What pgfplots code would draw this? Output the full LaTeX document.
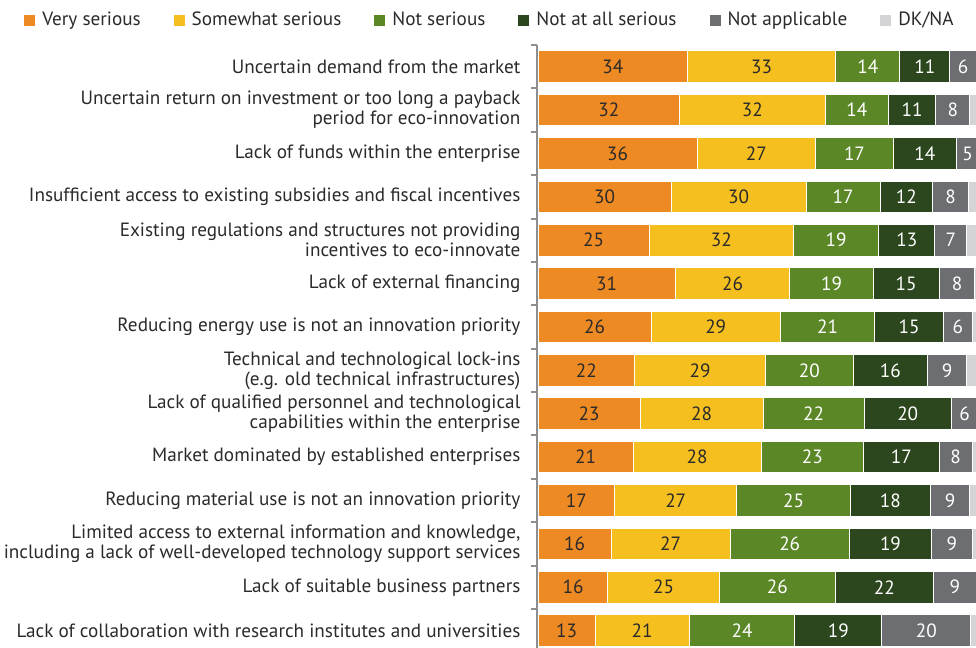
\documentclass[border=0pt]{standalone}
\usepackage{pgfplots}
\pgfplotsset{compat=1.18}
\usepackage{pgfplotstable}
\usepackage{fontspec}
\setmainfont{PT Sans}
\definecolor{cVery}{HTML}{EE8A24}
\definecolor{cSome}{HTML}{F5BF20}
\definecolor{cNot}{HTML}{5B8727}
\definecolor{cNotAll}{HTML}{2C461E}
\definecolor{cNA}{HTML}{6D6E72}
\definecolor{cDK}{HTML}{D4D4D6}
\definecolor{axgray}{HTML}{8E8E90}
\definecolor{txt}{HTML}{2A2A2A}
\pgfplotstableread{
y a la b lb c lc d ld e le f
0 33.8 34 33.6 33 14.5 14 11.3 11 6.0 6 0.8
1 32.0 32 33.0 32 14.3 14 10.7 11 7.7 8 2.3
2 36.0 36 26.8 27 17.6 17 14.3 14 5.0 5 0.3
3 30.1 30 30.6 30 16.7 17 11.9 12 8.1 8 2.6
4 25.1 25 32.7 32 19.3 19 12.7 13 7.2 7 3.0
5 31.0 31 26.0 26 18.8 19 15.0 15 8.0 8 1.2
6 25.6 26 29.2 29 21.4 21 15.5 15 6.6 6 1.7
7 21.8 22 29.7 29 19.8 20 16.8 16 8.9 9 3.0
8 23.1 23 27.8 28 22.9 22 19.7 20 6.0 6 0.5
9 21.5 21 29.0 28 23.1 23 17.2 17 7.4 8 1.8
10 17.3 17 27.7 27 25.6 25 18.2 18 8.9 9 2.3
11 16.5 16 27.0 27 26.9 26 18.7 19 9.1 9 1.8
12 15.8 16 25.2 25 26.3 26 22.1 22 9.8 9 0.8
13 12.9 13 21.3 21 23.9 24 19.7 19 20.1 20 2.1
}\data
\begin{document}
\begin{tikzpicture}[font=\fontsize{9.6bp}{10bp}\selectfont, text=txt]
\begin{axis}[
  scale only axis,
  width=222.7bp, height=301.5bp,
  xbar stacked,
  bar width=0.73,
  xmin=-0.3, xmax=100.5,
  ymin=-0.5, ymax=13.4,
  y dir=reverse,
  axis x line=none,
  axis y line*=left,
  axis line style={draw=axgray, line width=1bp},
  ytick={0,...,13},
  minor ytick={-0.5,0.5,...,12.5},
  major tick length=0pt,
  minor tick length=3bp,
  tick align=outside,
  tick style={draw=axgray, line width=1bp},
  yticklabel style={align=right, inner sep=0pt, xshift=-8bp, text=txt},
  yticklabels={
    Uncertain demand from the market,
    {Uncertain return on investment or too long a payback\\period for eco-innovation},
    Lack of funds within the enterprise,
    Insufficient access to existing subsidies and fiscal incentives,
    {Existing regulations and structures not providing\\incentives to eco-innovate},
    Lack of external financing,
    Reducing energy use is not an innovation priority,
    {Technical and technological lock-ins\\(e.g. old technical infrastructures)},
    {Lack of qualified personnel and technological\\capabilities within the enterprise},
    Market dominated by established enterprises,
    Reducing material use is not an innovation priority,
    {Limited access to external information and knowledge,\\including a lack of well-developed technology support services},
    Lack of suitable business partners,
    Lack of collaboration with research institutes and universities},
  point meta=explicit symbolic,
  nodes near coords align=center,
  every node near coord/.append style={anchor=center, font=\fontsize{9.6bp}{10bp}\selectfont},
  legend columns=6,
  legend cell align=left,
  legend style={draw=none, fill=none, at={(0,1)}, anchor=west, xshift=-259.4bp, yshift=12.5bp,
    nodes={inner sep=0pt, text=txt},
    /tikz/every odd column/.append style={column sep=3.5bp},
    /tikz/every even column/.append style={column sep=16.5bp}},
  legend image code/.code={\fill[#1, draw=none] (0bp,-2.75bp) rectangle (5.5bp,2.75bp);},
]
\addplot[fill=cVery, draw=white, line width=0.5bp, nodes near coords, every node near coord/.append style={text=txt}] table[x=a, y=y, meta=la] {\data};
\addplot[fill=cSome, draw=white, line width=0.5bp, nodes near coords, every node near coord/.append style={text=txt}] table[x=b, y=y, meta=lb] {\data};
\addplot[fill=cNot, draw=white, line width=0.5bp, nodes near coords, every node near coord/.append style={text=white}] table[x=c, y=y, meta=lc] {\data};
\addplot[fill=cNotAll, draw=white, line width=0.5bp, nodes near coords, every node near coord/.append style={text=white}] table[x=d, y=y, meta=ld] {\data};
\addplot[fill=cNA, draw=white, line width=0.5bp, nodes near coords, every node near coord/.append style={text=white}] table[x=e, y=y, meta=le] {\data};
\addplot[fill=cDK, draw=white, line width=0.5bp] table[x=f, y=y] {\data};
\legend{Very serious, Somewhat serious, Not serious, Not at all serious, Not applicable, DK/NA}
\coordinate (tl) at (axis cs:-0.3,-0.5);
\coordinate (br) at (axis cs:99.1,13.4);
\end{axis}
\pgfresetboundingbox
\path[use as bounding box] ([shift={(-268.4bp,22.5bp)}]tl) rectangle (br);
\end{tikzpicture}
\end{document}
